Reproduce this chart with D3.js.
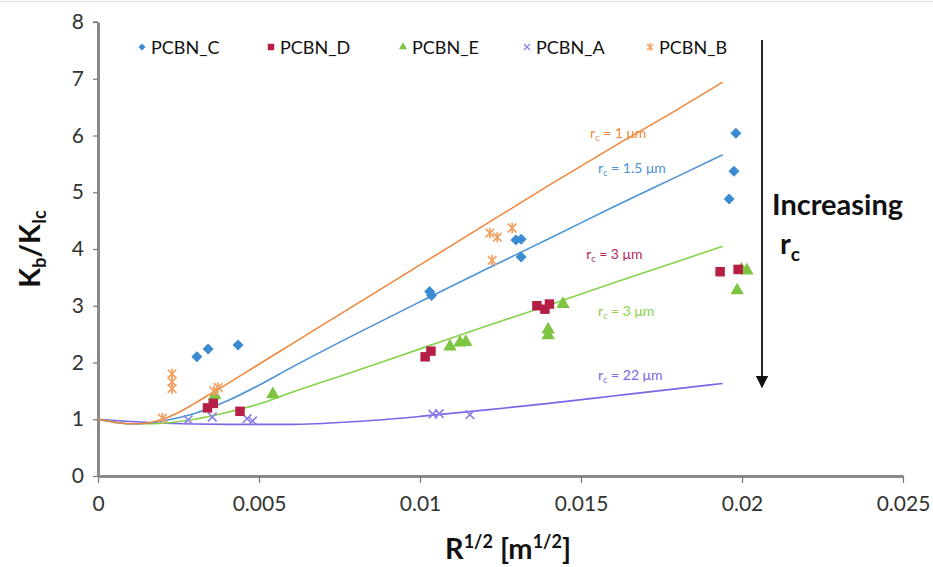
<!DOCTYPE html>
<html>
<head>
<meta charset="utf-8">
<script src="https://cdn.jsdelivr.net/npm/d3@7"></script>
<style>
  html, body { margin: 0; padding: 0; background: #fff; }
  svg { display: block; font-family: Lato, "Open Sans", sans-serif; }
</style>
</head>
<body>
<svg id="chart" width="933" height="567"></svg>
<script>
// Measured points: [R^(1/2) in m^(1/2), Kb/KIc]
const pcbnC = [[0.00307, 2.10], [0.00342, 2.24], [0.00435, 2.31], [0.01030, 3.25], [0.01036, 3.18],
  [0.01298, 4.16], [0.01314, 4.17], [0.01314, 3.86], [0.01981, 6.04], [0.01975, 5.37], [0.01960, 4.88]];
const pcbnD = [[0.00340, 1.20], [0.00358, 1.28], [0.00441, 1.14], [0.01016, 2.10], [0.01034, 2.20],
  [0.01363, 3.00], [0.01388, 2.94], [0.01402, 3.03], [0.01932, 3.60], [0.01988, 3.64]];
const pcbnE = [[0.00363, 1.42], [0.00543, 1.44], [0.01093, 2.28], [0.01124, 2.35], [0.01142, 2.36],
  [0.01444, 3.03], [0.01398, 2.58], [0.01398, 2.48], [0.02015, 3.62], [0.01998, 3.64], [0.01985, 3.27]];
const pcbnA = [[0.00280, 0.99], [0.00355, 1.04], [0.00463, 1.01], [0.00480, 0.97],
  [0.01040, 1.09], [0.01060, 1.10], [0.01155, 1.08]];
const pcbnB = [[0.00200, 1.02], [0.00230, 1.80], [0.00230, 1.66], [0.00230, 1.54], [0.00373, 1.56], [0.00360, 1.50],
  [0.01217, 4.28], [0.01240, 4.21], [0.01286, 4.37], [0.01224, 3.80]];

// Model curves for several process-zone radii r_c
const curveR1 = [[0, 1], [0.0005, 0.95], [0.001, 0.92], [0.0015, 0.93], [0.002, 1.0], [0.0025, 1.12],
  [0.003, 1.28], [0.0035, 1.45], [0.004, 1.62], [0.005, 1.97], [0.006, 2.32], [0.008, 3.02],
  [0.010, 3.72], [0.012, 4.42], [0.014, 5.12], [0.016, 5.8], [0.018, 6.46], [0.0194, 6.94]];
const curveR15 = [[0, 1], [0.0005, 0.95], [0.001, 0.92], [0.0015, 0.93], [0.002, 0.97], [0.003, 1.1],
  [0.004, 1.32], [0.005, 1.6], [0.006, 1.91], [0.008, 2.5], [0.010, 3.07], [0.012, 3.63],
  [0.014, 4.18], [0.016, 4.74], [0.018, 5.28], [0.0194, 5.66]];
const curveR3 = [[0, 1], [0.0005, 0.95], [0.001, 0.92], [0.0015, 0.92], [0.002, 0.93], [0.003, 1.0],
  [0.004, 1.12], [0.005, 1.27], [0.006, 1.47], [0.008, 1.85], [0.010, 2.24], [0.012, 2.63],
  [0.014, 3.01], [0.016, 3.4], [0.018, 3.78], [0.0194, 4.05]];
const curveR22 = [[0, 1], [0.001, 0.96], [0.002, 0.93], [0.004, 0.91], [0.006, 0.91], [0.008, 0.96],
  [0.010, 1.05], [0.012, 1.16], [0.014, 1.28], [0.016, 1.41], [0.018, 1.54], [0.0194, 1.63]];

const xTicks = [0, 0.005, 0.01, 0.015, 0.02, 0.025];
const xTickLabels = ["0", "0.005", "0.01", "0.015", "0.02", "0.025"];
const yTicks = [0, 1, 2, 3, 4, 5, 6, 7, 8];

const col = {
  C: "#3a8bd2", D: "#b51f45", E: "#7cc541", A: "#8c80e6", B: "#f2a064",
  lR1: "#f0883e", lR15: "#4a93d8", lR3: "#86d24a", lR22: "#7b66ea"
};

const svg = d3.select("#chart");
const M = { left: 98, right: 903, top: 22, bottom: 476 };
const x = d3.scaleLinear().domain([0, 0.025]).range([M.left, M.right]);
const y = d3.scaleLinear().domain([0, 8]).range([M.bottom, M.top]);

// faint rule across the top edge
svg.append("line").attr("x1", 0).attr("x2", 933).attr("y1", 1.5).attr("y2", 1.5)
  .attr("stroke", "#e2e2e2").attr("stroke-width", 1);

// Axes
const xAxis = d3.axisBottom(x).tickValues(xTicks).tickFormat((d, i) => xTickLabels[i]).tickSize(7).tickSizeOuter(0);
const gx = svg.append("g").attr("transform", `translate(0,${M.bottom})`).call(xAxis);
gx.select(".domain").attr("stroke", "#8a8a8a").attr("stroke-width", 3);
gx.selectAll(".tick line").attr("stroke", "#777").attr("stroke-width", 1.2);
gx.selectAll(".tick text").attr("font-size", 21).attr("fill", "#333").attr("dy", "1.2em")
  .attr("font-family", "Lato, sans-serif");

const yAxis = d3.axisLeft(y).tickValues(yTicks).tickSize(5).tickSizeOuter(0);
const gy = svg.append("g").attr("transform", `translate(${M.left},0)`).call(yAxis);
gy.select(".domain").attr("stroke", "#8a8a8a").attr("stroke-width", 3);
gy.selectAll(".tick line").attr("stroke", "#777").attr("stroke-width", 1.2).attr("x2", -5);
gy.selectAll(".tick text").attr("font-size", 21).attr("fill", "#333").attr("x", -14)
  .attr("font-family", "Lato, sans-serif");
svg.append("line").attr("x1", M.left - 5).attr("x2", M.left).attr("y1", y(8)).attr("y2", y(8))
  .attr("stroke", "#777").attr("stroke-width", 1.2);

// Model curves
const line = d3.line().x(d => x(d[0])).y(d => y(d[1])).curve(d3.curveMonotoneX);
const curves = [[curveR22, col.lR22], [curveR3, col.lR3], [curveR15, col.lR15], [curveR1, col.lR1]];
curves.forEach(([data, c]) => {
  svg.append("path").datum(data).attr("d", line).attr("fill", "none")
    .attr("stroke", c).attr("stroke-width", 1.6);
});

// Marker shapes
const diamondPath = r => `M0,${-r}L${r},0L0,${r}L${-r},0Z`;
const square = d3.symbol().type(d3.symbolSquare).size(90);
const triangle = d3.symbol().type(d3.symbolTriangle).size(78);

function drawSymbols(data, gen, color) {
  svg.append("g").selectAll("path").data(data).join("path")
    .attr("transform", d => `translate(${x(d[0])},${y(d[1])})`)
    .attr("d", gen).attr("fill", color);
}
function drawCross(data, color, star) {
  const g = svg.append("g").attr("stroke", color).attr("stroke-width", 1.7).attr("fill", "none");
  data.forEach(d => {
    const cx = x(d[0]), cy = y(d[1]), r = 4.3;
    g.append("path").attr("d", `M${cx - r},${cy - r}L${cx + r},${cy + r}M${cx - r},${cy + r}L${cx + r},${cy - r}` +
      (star ? `M${cx},${cy - r - 1}L${cx},${cy + r + 1}` : ""));
  });
}

drawCross(pcbnA, col.A, false);
drawSymbols(pcbnE, triangle, col.E);
drawSymbols(pcbnD, square, col.D);
drawCross(pcbnB, col.B, true);
drawSymbols(pcbnC, () => diamondPath(5.5), col.C);

// Curve labels
const labels = [
  { t: "1 μm", c: col.lR1, px: 0.01528, py: 5.96 },
  { t: "1.5 μm", c: col.lR15, px: 0.01553, py: 5.34 },
  { t: "3 μm", c: "#b8285a", px: 0.01516, py: 3.82 },
  { t: "3 μm", c: col.lR3, px: 0.01553, py: 2.82 },
  { t: "22 μm", c: col.lR22, px: 0.01553, py: 1.69 }
];
labels.forEach(l => {
  const t = svg.append("text").attr("x", x(l.px)).attr("y", y(l.py)).attr("fill", l.c)
    .attr("font-size", 14).attr("font-family", "Lato, sans-serif");
  t.append("tspan").text("r");
  t.append("tspan").text("c").attr("font-size", 9).attr("dy", 3);
  t.append("tspan").text(" = " + l.t).attr("dy", -3);
});

// Legend
const legendItems = [
  { name: "PCBN_C", kind: "diamond", c: col.C, lx: 142 },
  { name: "PCBN_D", kind: "square", c: col.D, lx: 271 },
  { name: "PCBN_E", kind: "triangle", c: col.E, lx: 403 },
  { name: "PCBN_A", kind: "x", c: col.A, lx: 527 },
  { name: "PCBN_B", kind: "star", c: col.B, lx: 650 }
];
const ly = 47;
legendItems.forEach(it => {
  if (it.kind === "diamond") svg.append("path").attr("d", diamondPath(3.5)).attr("transform", `translate(${it.lx},${ly})`).attr("fill", it.c);
  if (it.kind === "square") svg.append("path").attr("d", d3.symbol().type(d3.symbolSquare).size(42)()).attr("transform", `translate(${it.lx},${ly})`).attr("fill", it.c);
  if (it.kind === "triangle") svg.append("path").attr("d", d3.symbol().type(d3.symbolTriangle).size(28)()).attr("transform", `translate(${it.lx},${ly})`).attr("fill", it.c);
  if (it.kind === "x" || it.kind === "star") {
    const r = 3;
    svg.append("path").attr("d", `M${it.lx - r},${ly - r}L${it.lx + r},${ly + r}M${it.lx - r},${ly + r}L${it.lx + r},${ly - r}` +
      (it.kind === "star" ? `M${it.lx},${ly - r - 1}L${it.lx},${ly + r + 1}` : ""))
      .attr("stroke", it.c).attr("stroke-width", 1.3).attr("fill", "none");
  }
  svg.append("text").attr("x", it.lx + 9).attr("y", ly + 6.5).text(it.name)
    .attr("font-size", 18).attr("fill", "#111").attr("font-family", "Lato, sans-serif");
});

// Arrow showing the trend with increasing r_c
svg.append("defs").append("marker").attr("id", "arrowHead").attr("viewBox", "0 0 10 10")
  .attr("refX", 9).attr("refY", 5).attr("markerWidth", 7).attr("markerHeight", 7).attr("orient", "auto")
  .append("path").attr("d", "M0,0L10,5L0,10z").attr("fill", "#111");
svg.append("line").attr("x1", 762).attr("x2", 762).attr("y1", 40).attr("y2", 387)
  .attr("stroke", "#111").attr("stroke-width", 1.8).attr("marker-end", "url(#arrowHead)");
svg.append("text").attr("x", 772).attr("y", 215).text("Increasing")
  .attr("font-size", 29).attr("font-weight", "bold").attr("fill", "#111");
const rc = svg.append("text").attr("x", 780).attr("y", 254).attr("font-size", 29)
  .attr("font-weight", "bold").attr("fill", "#111");
rc.append("tspan").text("r");
rc.append("tspan").text("c").attr("font-size", 19).attr("dy", 7);

// Axis titles
const yt = svg.append("text").attr("transform", `translate(40,${y(4)}) rotate(-90)`)
  .attr("text-anchor", "middle").attr("font-size", 29).attr("font-weight", "bold").attr("fill", "#111");
yt.append("tspan").text("K");
yt.append("tspan").text("b").attr("font-size", 18).attr("dy", 6);
yt.append("tspan").text("/K").attr("dy", -6);
yt.append("tspan").text("Ic").attr("font-size", 18).attr("dy", 6);

const xt = svg.append("text").attr("x", 508).attr("y", 559).attr("text-anchor", "middle")
  .attr("font-size", 29).attr("font-weight", "bold").attr("fill", "#111");
xt.append("tspan").text("R");
xt.append("tspan").text("1/2").attr("font-size", 18).attr("dy", -11);
xt.append("tspan").text(" [m").attr("dy", 11);
xt.append("tspan").text("1/2").attr("font-size", 18).attr("dy", -11);
xt.append("tspan").text("]").attr("dy", 11);
</script>
</body>
</html>
